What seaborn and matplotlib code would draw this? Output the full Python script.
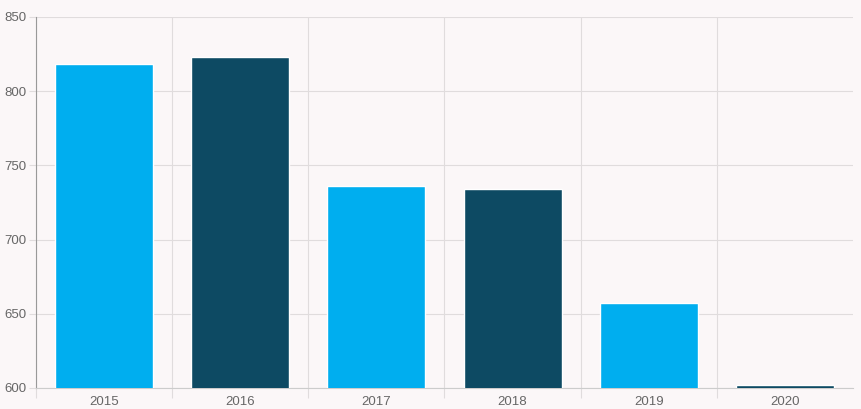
import matplotlib
matplotlib.use("Agg")
import matplotlib.pyplot as plt
import seaborn as sns
import pandas as pd
import numpy as np

years = ["2015", "2016", "2017", "2018", "2019", "2020"]
values = [818, 823, 736, 734, 657, 602]
colors = ["#00aeef", "#0d4a63", "#00aeef", "#0d4a63", "#00aeef", "#0d4a63"]

BG = "#fbf7f8"

sns.set_theme(style="white")
plt.rcParams["font.family"] = ["Liberation Sans", "DejaVu Sans"]

df = pd.DataFrame({"year": years, "value": values})

fig = plt.figure(figsize=(8.61, 4.09), dpi=100, facecolor=BG)
ax = fig.add_axes([36 / 861, 1 - 388 / 409, (853 - 36) / 861, (388 - 17) / 409])
ax.set_facecolor(BG)

sns.barplot(data=df, x="year", y="value", hue="year", palette=colors,
            legend=False, width=0.72, saturation=1, ax=ax, zorder=3)

ax.set_ylim(600, 850)
ax.set_xlim(-0.5, 5.5)
ax.set_yticks(np.arange(600, 851, 50))
# category boundaries (no line at the far right edge)
ax.set_xticks(np.arange(-0.5, 5.0, 1), minor=True)
ax.set_xlabel("")
ax.set_ylabel("")

ax.grid(axis="y", color="#e0dcdd", linewidth=0.8, zorder=0)
ax.grid(axis="x", which="minor", color="#e0dcdd", linewidth=0.8, zorder=0)

ax.tick_params(axis="y", which="major", left=True, length=5, width=0.8,
               color="#e0dcdd", labelsize=9.5, labelcolor="#666666", pad=2)
ax.tick_params(axis="x", which="major", bottom=False, length=0, labelsize=9.5,
               labelcolor="#666666", pad=6)
ax.tick_params(axis="x", which="minor", bottom=True, length=7, width=0.8,
               color="#e0dcdd")

for side in ["top", "right"]:
    ax.spines[side].set_visible(False)
ax.spines["left"].set_color("#999999")
ax.spines["left"].set_linewidth(0.8)
ax.spines["bottom"].set_color("#cccccc")
ax.spines["bottom"].set_linewidth(0.8)

fig.savefig("out.png", dpi=100, facecolor=BG)
